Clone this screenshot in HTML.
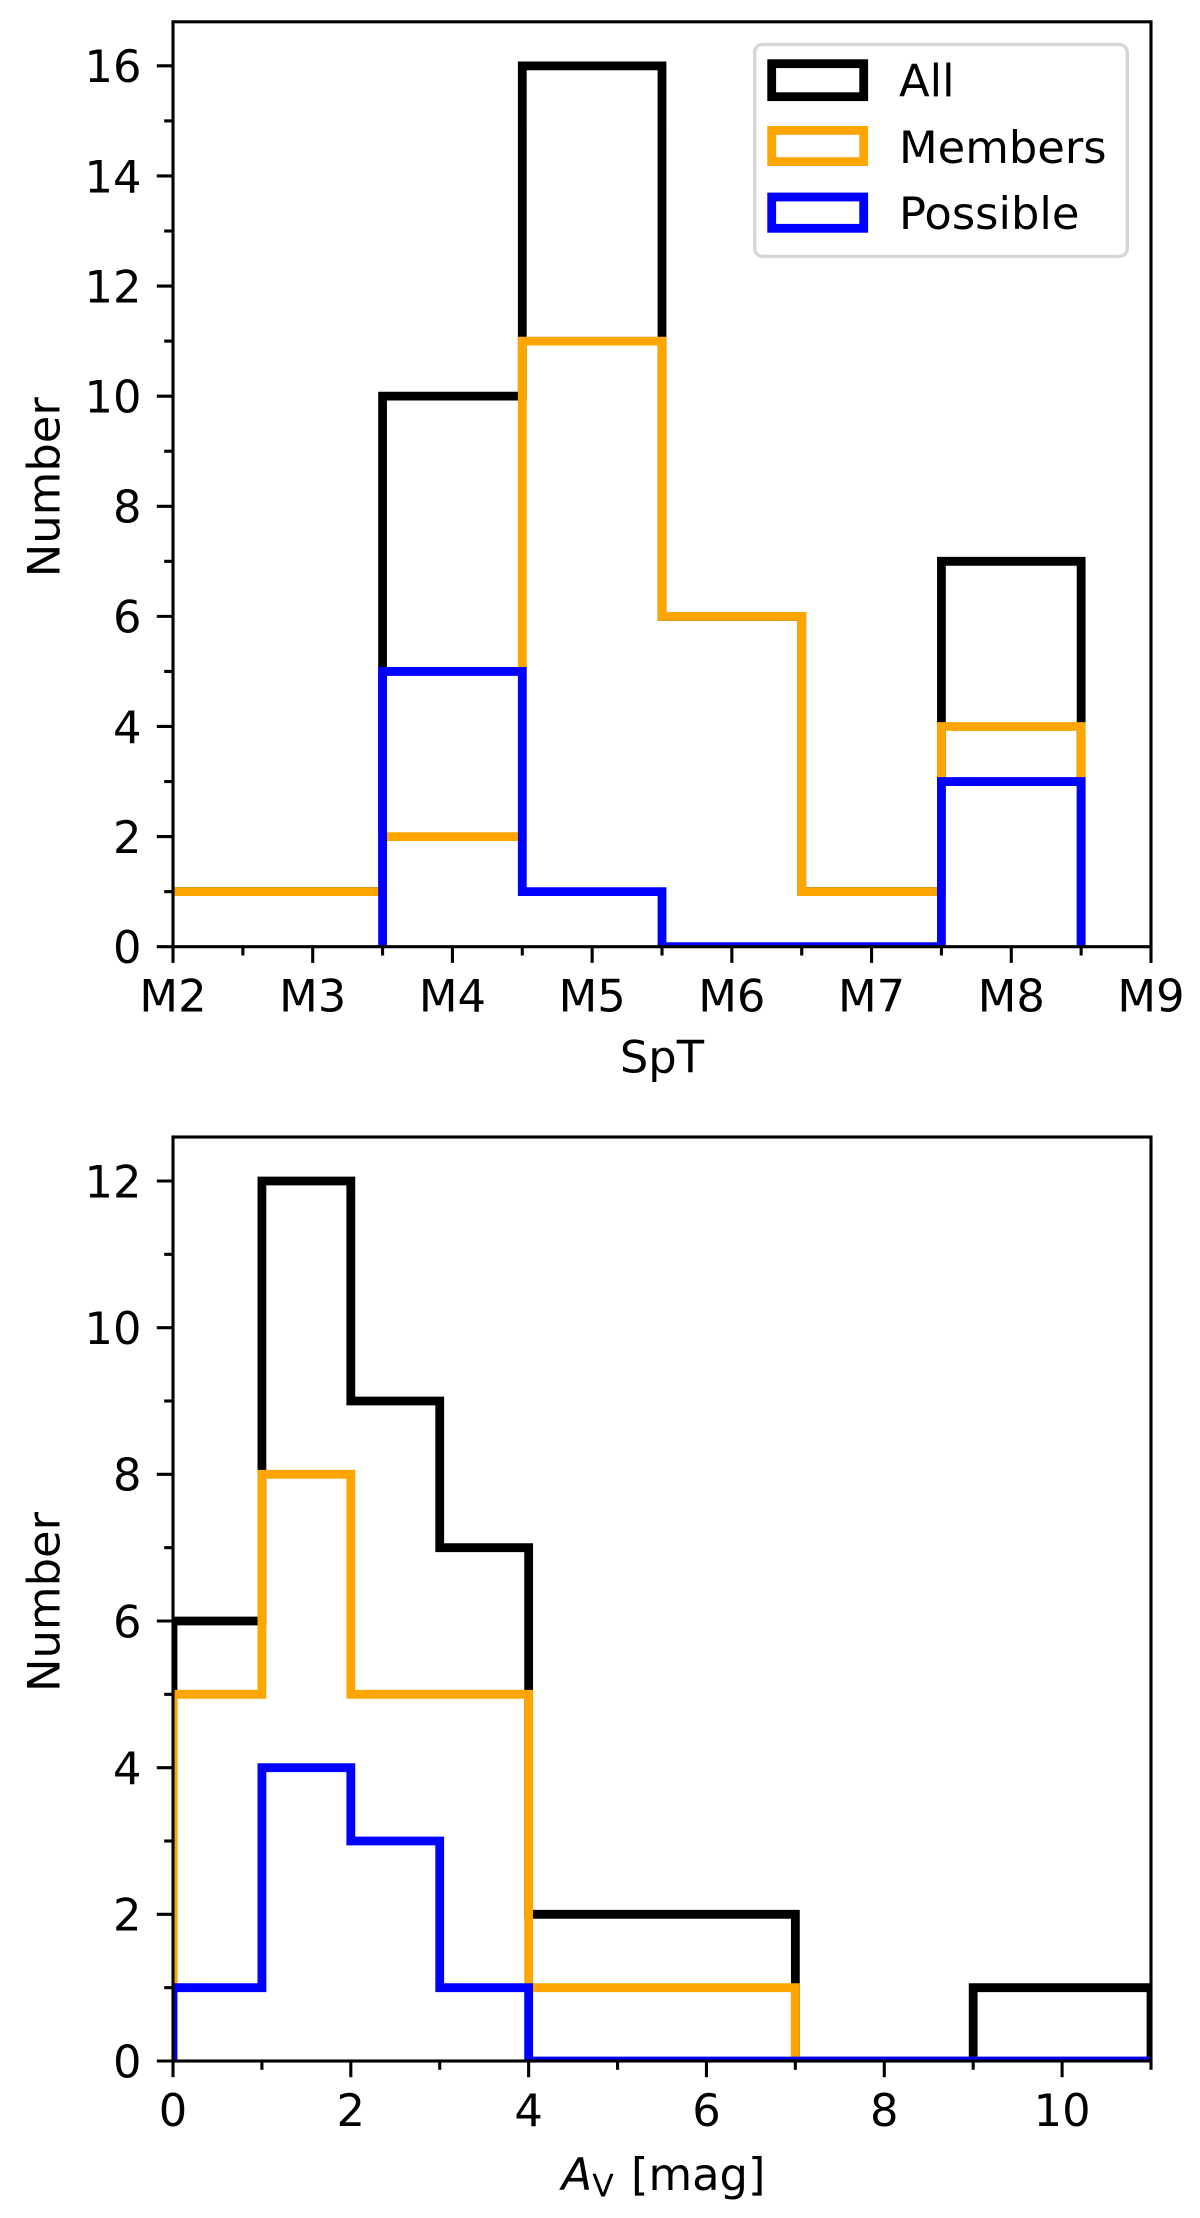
<!DOCTYPE html>
<html lang="en">
<head>
<meta charset="utf-8">
<title>SpT and Av histograms</title>
<style>
  html, body { margin: 0; padding: 0; background: #fff; }
  #figure { display: block; width: 1200px; height: 2218px; }
  text { font-family: "DejaVu Sans", "Liberation Sans", sans-serif; fill: #000; font-size: 44.8px; }
</style>
</head>
<body>
<svg id="figure" xmlns="http://www.w3.org/2000/svg" width="1200" height="2218" viewBox="0 0 1200 2218">
  <rect x="0" y="0" width="1200" height="2218" fill="#fff"/>
  <defs>
    <clipPath id="clip-spt"><rect x="173" y="21.8" width="978" height="925"/></clipPath>
    <clipPath id="clip-av"><rect x="173" y="1137" width="978" height="924"/></clipPath>
  </defs>
  <g id="panel-spt"></g>
  <g id="panel-av"></g>
  <g>
    <rect x="754.7" y="44.4" width="372.6" height="212" rx="8" ry="8" fill="#fff" fill-opacity="0.8" stroke="#d6d6d6" stroke-width="3.4"/>
    <rect x="771.7" y="63.7" width="92" height="33" fill="none" stroke="#000" stroke-width="8.8"/>
    <text x="899" y="96.7">All</text>
    <rect x="771.7" y="130.4" width="92" height="31.2" fill="none" stroke="#ffa500" stroke-width="8.8"/>
    <text x="899" y="163">Members</text>
    <rect x="771.7" y="197" width="92" height="31.3" fill="none" stroke="#0000ff" stroke-width="8.8"/>
    <text x="899" y="229">Possible</text>
  </g>
</svg>
<script>
// Spectral type panel data
const sptEdgesAll = [1.5, 2.5, 3.5, 4.5, 5.5, 6.5, 7.5, 8.5];
const sptAll = [1, 1, 10, 16, 6, 1, 7];
const sptEdgesMembers = [1.5, 2.5, 3.5, 4.5, 5.5, 6.5, 7.5, 8.5];
const sptMembers = [1, 1, 2, 11, 6, 1, 4];
const sptEdgesPossible = [3.5, 4.5, 5.5, 6.5, 7.5, 8.5];
const sptPossible = [5, 1, 0, 0, 3];
const sptXMajor = [2, 3, 4, 5, 6, 7, 8, 9];
const sptXLabels = ["M2", "M3", "M4", "M5", "M6", "M7", "M8", "M9"];
const sptXMinor = [2.5, 3.5, 4.5, 5.5, 6.5, 7.5, 8.5];
const sptYMajor = [0, 2, 4, 6, 8, 10, 12, 14, 16];
const sptYMinor = [1, 3, 5, 7, 9, 11, 13, 15];

// Extinction panel data
const avEdges = [0, 1, 2, 3, 4, 5, 6, 7, 8, 9, 10, 11];
const avAll = [6, 12, 9, 7, 2, 2, 2, 0, 0, 1, 1];
const avMembers = [5, 8, 5, 5, 1, 1, 1, 0, 0, 0, 0];
const avPossible = [1, 4, 3, 1, 0, 0, 0, 0, 0, 0, 0];
const avXMajor = [0, 2, 4, 6, 8, 10];
const avXLabels = ["0", "2", "4", "6", "8", "10"];
const avXMinor = [1, 3, 5, 7, 9, 11];
const avYMajor = [0, 2, 4, 6, 8, 10, 12];
const avYMinor = [1, 3, 5, 7, 9, 11];

const SVG_NS = "http://www.w3.org/2000/svg";
const AX_LEFT = 173, AX_RIGHT = 1151;
const SPINE_W = 3.1, TICK_W = 3.1, HIST_W = 8.8, MAJOR_LEN = 16.2, MINOR_LEN = 8.8;

function svgEl(tag, attrs) {
  const el = document.createElementNS(SVG_NS, tag);
  for (const k in attrs) el.setAttribute(k, attrs[k]);
  return el;
}

function stepPoints(edges, values, xs, ys) {
  const pts = [[xs(edges[0]), ys(0)]];
  values.forEach(function (v, i) {
    pts.push([xs(edges[i]), ys(v)]);
    pts.push([xs(edges[i + 1]), ys(v)]);
  });
  pts.push([xs(edges[edges.length - 1]), ys(0)]);
  return pts.map(function (p) { return p[0].toFixed(2) + "," + p[1].toFixed(2); }).join(" ");
}

function drawPanel(cfg) {
  const root = document.getElementById(cfg.rootId);
  const xs = function (v) { return AX_LEFT + (v - cfg.xMin) / (cfg.xMax - cfg.xMin) * (AX_RIGHT - AX_LEFT); };
  const ys = function (v) { return cfg.bottom - v / cfg.yMax * (cfg.bottom - cfg.top); };

  const histGroup = svgEl("g", { "clip-path": "url(#" + cfg.clipId + ")" });
  
  
  root.appendChild(histGroup);
  cfg.series.forEach(function (s) {
    const line = svgEl("polyline", {
      points: stepPoints(s.edges, s.values, xs, ys),
      fill: "none",
      stroke: s.color,
      "stroke-width": HIST_W,
      "stroke-linejoin": "miter",
      "stroke-miterlimit": 10
    });
    
    
    histGroup.appendChild(line);
  });

  cfg.xMinor.forEach(function (v) {
    const t = svgEl("line", { x1: xs(v), x2: xs(v), y1: cfg.bottom, y2: cfg.bottom + MINOR_LEN, stroke: "#000", "stroke-width": TICK_W });
    
    
    root.appendChild(t);
  });
  cfg.xMajor.forEach(function (v, i) {
    const t = svgEl("line", { x1: xs(v), x2: xs(v), y1: cfg.bottom, y2: cfg.bottom + MAJOR_LEN, stroke: "#000", "stroke-width": TICK_W });
    
    
    root.appendChild(t);
    const lab = svgEl("text", { x: xs(v), y: cfg.bottom + cfg.xLabelOffset, "text-anchor": "middle" });
    lab.textContent = cfg.xLabels[i];
    
    
    root.appendChild(lab);
  });
  cfg.yMinor.forEach(function (v) {
    const t = svgEl("line", { x1: AX_LEFT - MINOR_LEN, x2: AX_LEFT, y1: ys(v), y2: ys(v), stroke: "#000", "stroke-width": TICK_W });
    
    
    root.appendChild(t);
  });
  cfg.yMajor.forEach(function (v) {
    const t = svgEl("line", { x1: AX_LEFT - MAJOR_LEN, x2: AX_LEFT, y1: ys(v), y2: ys(v), stroke: "#000", "stroke-width": TICK_W });
    
    
    root.appendChild(t);
    const lab = svgEl("text", { x: 141.5, y: ys(v) + 16.3, "text-anchor": "end" });
    lab.textContent = String(v);
    
    
    root.appendChild(lab);
  });

  const frame = svgEl("rect", { x: AX_LEFT, y: cfg.top, width: AX_RIGHT - AX_LEFT, height: cfg.bottom - cfg.top, fill: "none", stroke: "#000", "stroke-width": SPINE_W });
  
  
  root.appendChild(frame);

  const midY = (cfg.top + cfg.bottom) / 2 + 3;
  const yTitle = svgEl("text", { x: 0, y: 0, "text-anchor": "middle", transform: "translate(59.5 " + midY + ") rotate(-90)" });
  yTitle.textContent = "Number";
  
  
  root.appendChild(yTitle);

  const xTitle = svgEl("text", { x: cfg.xTitleX, y: cfg.xTitleY, "text-anchor": "middle" });
  if (cfg.xTitleParts) {
    cfg.xTitleParts.forEach(function (p) {
      const sp = svgEl("tspan", p.attrs);
      sp.textContent = p.text;
      xTitle.appendChild(sp);
    });
  } else {
    xTitle.textContent = cfg.xTitle;
  }
  
  
  root.appendChild(xTitle);
}

drawPanel({
  rootId: "panel-spt", clipId: "clip-spt",
  xMin: 2, xMax: 9, yMax: 16.8, top: 21.8, bottom: 946.7,
  xMajor: sptXMajor, xLabels: sptXLabels, xMinor: sptXMinor,
  yMajor: sptYMajor, yMinor: sptYMinor,
  xLabelOffset: 65, xTitleX: 662, xTitleY: 1072.7, xTitle: "SpT",
  series: [
    { name: "all-histogram", color: "#000000", edges: sptEdgesAll, values: sptAll },
    { name: "members-histogram", color: "#ffa500", edges: sptEdgesMembers, values: sptMembers },
    { name: "possible-histogram", color: "#0000ff", edges: sptEdgesPossible, values: sptPossible }
  ]
});

drawPanel({
  rootId: "panel-av", clipId: "clip-av",
  xMin: 0, xMax: 11, yMax: 12.6, top: 1137, bottom: 2061,
  xMajor: avXMajor, xLabels: avXLabels, xMinor: avXMinor,
  yMajor: avYMajor, yMinor: avYMinor,
  xLabelOffset: 65, xTitleX: 663.5, xTitleY: 2190,
  xTitleParts: [
    { text: "A", attrs: { "font-style": "italic" } },
    { text: "V", attrs: { "font-size": "31.5px", dy: "6.7" } },
    { text: "\u00a0[mag]", attrs: { dy: "-6.7", dx: "3" } }
  ],
  series: [
    { name: "all-histogram", color: "#000000", edges: avEdges, values: avAll },
    { name: "members-histogram", color: "#ffa500", edges: avEdges, values: avMembers },
    { name: "possible-histogram", color: "#0000ff", edges: avEdges, values: avPossible }
  ]
});
</script>
</body>
</html>
